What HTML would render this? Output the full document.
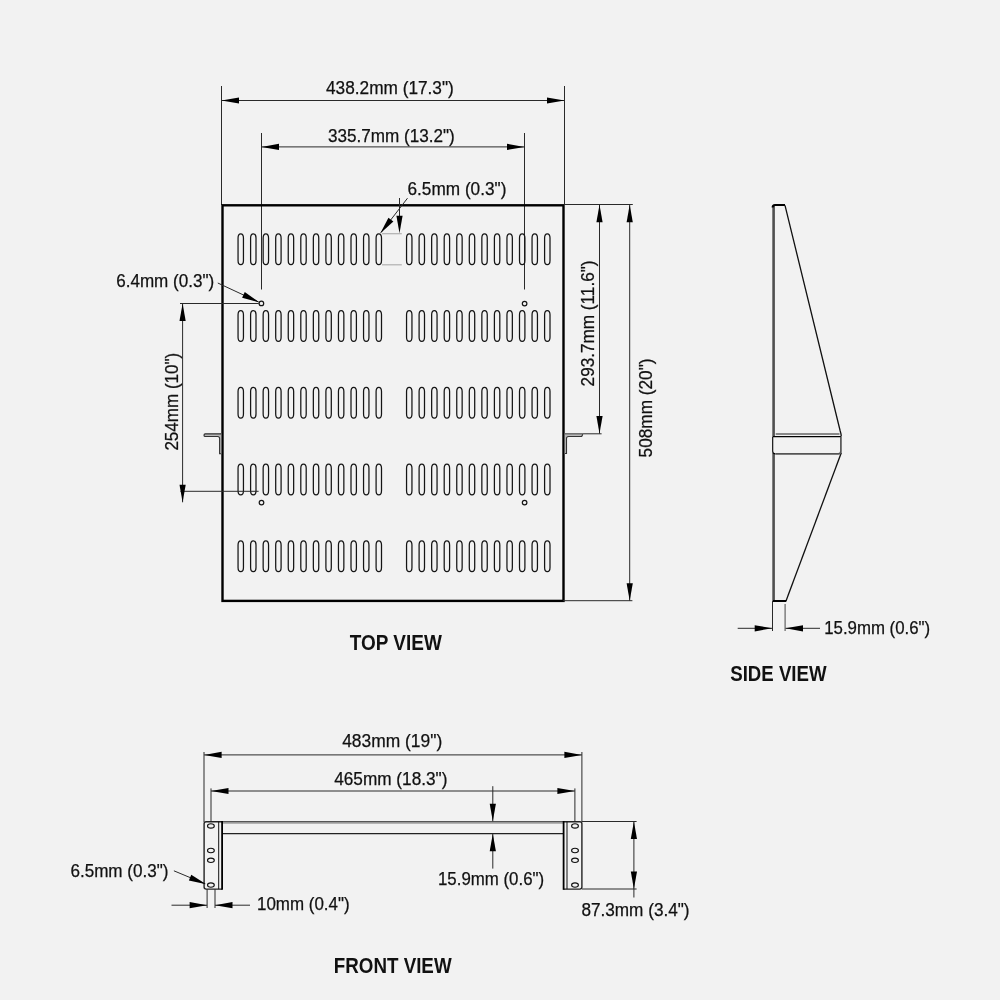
<!DOCTYPE html>
<html><head><meta charset="utf-8"><title>Shelf drawing</title>
<style>
html,body{margin:0;padding:0;background:#f2f2f2;}
body{width:1000px;height:1000px;overflow:hidden;}
svg{display:block;font-family:"Liberation Sans",sans-serif;will-change:transform;}
text{fill:#111;}
</style></head><body>
<svg width="1000" height="1000" viewBox="0 0 1000 1000">
<rect x="0" y="0" width="1000" height="1000" fill="#f2f2f2"/>
<line x1="221.50" y1="86.00" x2="221.50" y2="205.00" stroke="#2a2a2a" stroke-width="1.0" />
<line x1="564.50" y1="86.00" x2="564.50" y2="205.00" stroke="#2a2a2a" stroke-width="1.0" />
<line x1="221.50" y1="100.50" x2="564.50" y2="100.50" stroke="#2a2a2a" stroke-width="1.0" />
<polygon points="221.50,100.50 239.00,97.40 239.00,103.60" fill="#000"/>
<polygon points="564.50,100.50 547.00,103.60 547.00,97.40" fill="#000"/>
<text x="326.00" y="94.00" font-size="17.5" font-weight="normal" textLength="127.80" lengthAdjust="spacingAndGlyphs" stroke="#111" stroke-width="0.25">438.2mm (17.3")</text>
<line x1="261.50" y1="133.00" x2="261.50" y2="289.50" stroke="#2a2a2a" stroke-width="1.0" />
<line x1="524.50" y1="133.00" x2="524.50" y2="289.50" stroke="#2a2a2a" stroke-width="1.0" />
<line x1="261.50" y1="146.90" x2="524.50" y2="146.90" stroke="#2a2a2a" stroke-width="1.0" />
<polygon points="261.50,146.90 279.00,143.80 279.00,150.00" fill="#000"/>
<polygon points="524.50,146.90 507.00,150.00 507.00,143.80" fill="#000"/>
<text x="327.90" y="142.00" font-size="17.5" font-weight="normal" textLength="126.80" lengthAdjust="spacingAndGlyphs" stroke="#111" stroke-width="0.25">335.7mm (13.2")</text>
<rect x="222.5" y="205.3" width="341" height="395.6" fill="none" stroke="#000" stroke-width="2.4"/>
<rect x="238.05" y="233.90" width="5.4" height="30.8" rx="2.7" ry="4.2" fill="none" stroke="#151515" stroke-width="1.25"/>
<rect x="250.60" y="233.90" width="5.4" height="30.8" rx="2.7" ry="4.2" fill="none" stroke="#151515" stroke-width="1.25"/>
<rect x="263.15" y="233.90" width="5.4" height="30.8" rx="2.7" ry="4.2" fill="none" stroke="#151515" stroke-width="1.25"/>
<rect x="275.70" y="233.90" width="5.4" height="30.8" rx="2.7" ry="4.2" fill="none" stroke="#151515" stroke-width="1.25"/>
<rect x="288.25" y="233.90" width="5.4" height="30.8" rx="2.7" ry="4.2" fill="none" stroke="#151515" stroke-width="1.25"/>
<rect x="300.80" y="233.90" width="5.4" height="30.8" rx="2.7" ry="4.2" fill="none" stroke="#151515" stroke-width="1.25"/>
<rect x="313.35" y="233.90" width="5.4" height="30.8" rx="2.7" ry="4.2" fill="none" stroke="#151515" stroke-width="1.25"/>
<rect x="325.90" y="233.90" width="5.4" height="30.8" rx="2.7" ry="4.2" fill="none" stroke="#151515" stroke-width="1.25"/>
<rect x="338.45" y="233.90" width="5.4" height="30.8" rx="2.7" ry="4.2" fill="none" stroke="#151515" stroke-width="1.25"/>
<rect x="351.00" y="233.90" width="5.4" height="30.8" rx="2.7" ry="4.2" fill="none" stroke="#151515" stroke-width="1.25"/>
<rect x="363.55" y="233.90" width="5.4" height="30.8" rx="2.7" ry="4.2" fill="none" stroke="#151515" stroke-width="1.25"/>
<rect x="376.10" y="233.90" width="5.4" height="30.8" rx="2.7" ry="4.2" fill="none" stroke="#151515" stroke-width="1.25"/>
<rect x="406.55" y="233.90" width="5.4" height="30.8" rx="2.7" ry="4.2" fill="none" stroke="#151515" stroke-width="1.25"/>
<rect x="419.10" y="233.90" width="5.4" height="30.8" rx="2.7" ry="4.2" fill="none" stroke="#151515" stroke-width="1.25"/>
<rect x="431.65" y="233.90" width="5.4" height="30.8" rx="2.7" ry="4.2" fill="none" stroke="#151515" stroke-width="1.25"/>
<rect x="444.20" y="233.90" width="5.4" height="30.8" rx="2.7" ry="4.2" fill="none" stroke="#151515" stroke-width="1.25"/>
<rect x="456.75" y="233.90" width="5.4" height="30.8" rx="2.7" ry="4.2" fill="none" stroke="#151515" stroke-width="1.25"/>
<rect x="469.30" y="233.90" width="5.4" height="30.8" rx="2.7" ry="4.2" fill="none" stroke="#151515" stroke-width="1.25"/>
<rect x="481.85" y="233.90" width="5.4" height="30.8" rx="2.7" ry="4.2" fill="none" stroke="#151515" stroke-width="1.25"/>
<rect x="494.40" y="233.90" width="5.4" height="30.8" rx="2.7" ry="4.2" fill="none" stroke="#151515" stroke-width="1.25"/>
<rect x="506.95" y="233.90" width="5.4" height="30.8" rx="2.7" ry="4.2" fill="none" stroke="#151515" stroke-width="1.25"/>
<rect x="519.50" y="233.90" width="5.4" height="30.8" rx="2.7" ry="4.2" fill="none" stroke="#151515" stroke-width="1.25"/>
<rect x="532.05" y="233.90" width="5.4" height="30.8" rx="2.7" ry="4.2" fill="none" stroke="#151515" stroke-width="1.25"/>
<rect x="544.60" y="233.90" width="5.4" height="30.8" rx="2.7" ry="4.2" fill="none" stroke="#151515" stroke-width="1.25"/>
<rect x="238.05" y="310.65" width="5.4" height="30.8" rx="2.7" ry="4.2" fill="none" stroke="#151515" stroke-width="1.25"/>
<rect x="250.60" y="310.65" width="5.4" height="30.8" rx="2.7" ry="4.2" fill="none" stroke="#151515" stroke-width="1.25"/>
<rect x="263.15" y="310.65" width="5.4" height="30.8" rx="2.7" ry="4.2" fill="none" stroke="#151515" stroke-width="1.25"/>
<rect x="275.70" y="310.65" width="5.4" height="30.8" rx="2.7" ry="4.2" fill="none" stroke="#151515" stroke-width="1.25"/>
<rect x="288.25" y="310.65" width="5.4" height="30.8" rx="2.7" ry="4.2" fill="none" stroke="#151515" stroke-width="1.25"/>
<rect x="300.80" y="310.65" width="5.4" height="30.8" rx="2.7" ry="4.2" fill="none" stroke="#151515" stroke-width="1.25"/>
<rect x="313.35" y="310.65" width="5.4" height="30.8" rx="2.7" ry="4.2" fill="none" stroke="#151515" stroke-width="1.25"/>
<rect x="325.90" y="310.65" width="5.4" height="30.8" rx="2.7" ry="4.2" fill="none" stroke="#151515" stroke-width="1.25"/>
<rect x="338.45" y="310.65" width="5.4" height="30.8" rx="2.7" ry="4.2" fill="none" stroke="#151515" stroke-width="1.25"/>
<rect x="351.00" y="310.65" width="5.4" height="30.8" rx="2.7" ry="4.2" fill="none" stroke="#151515" stroke-width="1.25"/>
<rect x="363.55" y="310.65" width="5.4" height="30.8" rx="2.7" ry="4.2" fill="none" stroke="#151515" stroke-width="1.25"/>
<rect x="376.10" y="310.65" width="5.4" height="30.8" rx="2.7" ry="4.2" fill="none" stroke="#151515" stroke-width="1.25"/>
<rect x="406.55" y="310.65" width="5.4" height="30.8" rx="2.7" ry="4.2" fill="none" stroke="#151515" stroke-width="1.25"/>
<rect x="419.10" y="310.65" width="5.4" height="30.8" rx="2.7" ry="4.2" fill="none" stroke="#151515" stroke-width="1.25"/>
<rect x="431.65" y="310.65" width="5.4" height="30.8" rx="2.7" ry="4.2" fill="none" stroke="#151515" stroke-width="1.25"/>
<rect x="444.20" y="310.65" width="5.4" height="30.8" rx="2.7" ry="4.2" fill="none" stroke="#151515" stroke-width="1.25"/>
<rect x="456.75" y="310.65" width="5.4" height="30.8" rx="2.7" ry="4.2" fill="none" stroke="#151515" stroke-width="1.25"/>
<rect x="469.30" y="310.65" width="5.4" height="30.8" rx="2.7" ry="4.2" fill="none" stroke="#151515" stroke-width="1.25"/>
<rect x="481.85" y="310.65" width="5.4" height="30.8" rx="2.7" ry="4.2" fill="none" stroke="#151515" stroke-width="1.25"/>
<rect x="494.40" y="310.65" width="5.4" height="30.8" rx="2.7" ry="4.2" fill="none" stroke="#151515" stroke-width="1.25"/>
<rect x="506.95" y="310.65" width="5.4" height="30.8" rx="2.7" ry="4.2" fill="none" stroke="#151515" stroke-width="1.25"/>
<rect x="519.50" y="310.65" width="5.4" height="30.8" rx="2.7" ry="4.2" fill="none" stroke="#151515" stroke-width="1.25"/>
<rect x="532.05" y="310.65" width="5.4" height="30.8" rx="2.7" ry="4.2" fill="none" stroke="#151515" stroke-width="1.25"/>
<rect x="544.60" y="310.65" width="5.4" height="30.8" rx="2.7" ry="4.2" fill="none" stroke="#151515" stroke-width="1.25"/>
<rect x="238.05" y="387.40" width="5.4" height="30.8" rx="2.7" ry="4.2" fill="none" stroke="#151515" stroke-width="1.25"/>
<rect x="250.60" y="387.40" width="5.4" height="30.8" rx="2.7" ry="4.2" fill="none" stroke="#151515" stroke-width="1.25"/>
<rect x="263.15" y="387.40" width="5.4" height="30.8" rx="2.7" ry="4.2" fill="none" stroke="#151515" stroke-width="1.25"/>
<rect x="275.70" y="387.40" width="5.4" height="30.8" rx="2.7" ry="4.2" fill="none" stroke="#151515" stroke-width="1.25"/>
<rect x="288.25" y="387.40" width="5.4" height="30.8" rx="2.7" ry="4.2" fill="none" stroke="#151515" stroke-width="1.25"/>
<rect x="300.80" y="387.40" width="5.4" height="30.8" rx="2.7" ry="4.2" fill="none" stroke="#151515" stroke-width="1.25"/>
<rect x="313.35" y="387.40" width="5.4" height="30.8" rx="2.7" ry="4.2" fill="none" stroke="#151515" stroke-width="1.25"/>
<rect x="325.90" y="387.40" width="5.4" height="30.8" rx="2.7" ry="4.2" fill="none" stroke="#151515" stroke-width="1.25"/>
<rect x="338.45" y="387.40" width="5.4" height="30.8" rx="2.7" ry="4.2" fill="none" stroke="#151515" stroke-width="1.25"/>
<rect x="351.00" y="387.40" width="5.4" height="30.8" rx="2.7" ry="4.2" fill="none" stroke="#151515" stroke-width="1.25"/>
<rect x="363.55" y="387.40" width="5.4" height="30.8" rx="2.7" ry="4.2" fill="none" stroke="#151515" stroke-width="1.25"/>
<rect x="376.10" y="387.40" width="5.4" height="30.8" rx="2.7" ry="4.2" fill="none" stroke="#151515" stroke-width="1.25"/>
<rect x="406.55" y="387.40" width="5.4" height="30.8" rx="2.7" ry="4.2" fill="none" stroke="#151515" stroke-width="1.25"/>
<rect x="419.10" y="387.40" width="5.4" height="30.8" rx="2.7" ry="4.2" fill="none" stroke="#151515" stroke-width="1.25"/>
<rect x="431.65" y="387.40" width="5.4" height="30.8" rx="2.7" ry="4.2" fill="none" stroke="#151515" stroke-width="1.25"/>
<rect x="444.20" y="387.40" width="5.4" height="30.8" rx="2.7" ry="4.2" fill="none" stroke="#151515" stroke-width="1.25"/>
<rect x="456.75" y="387.40" width="5.4" height="30.8" rx="2.7" ry="4.2" fill="none" stroke="#151515" stroke-width="1.25"/>
<rect x="469.30" y="387.40" width="5.4" height="30.8" rx="2.7" ry="4.2" fill="none" stroke="#151515" stroke-width="1.25"/>
<rect x="481.85" y="387.40" width="5.4" height="30.8" rx="2.7" ry="4.2" fill="none" stroke="#151515" stroke-width="1.25"/>
<rect x="494.40" y="387.40" width="5.4" height="30.8" rx="2.7" ry="4.2" fill="none" stroke="#151515" stroke-width="1.25"/>
<rect x="506.95" y="387.40" width="5.4" height="30.8" rx="2.7" ry="4.2" fill="none" stroke="#151515" stroke-width="1.25"/>
<rect x="519.50" y="387.40" width="5.4" height="30.8" rx="2.7" ry="4.2" fill="none" stroke="#151515" stroke-width="1.25"/>
<rect x="532.05" y="387.40" width="5.4" height="30.8" rx="2.7" ry="4.2" fill="none" stroke="#151515" stroke-width="1.25"/>
<rect x="544.60" y="387.40" width="5.4" height="30.8" rx="2.7" ry="4.2" fill="none" stroke="#151515" stroke-width="1.25"/>
<rect x="238.05" y="464.15" width="5.4" height="30.8" rx="2.7" ry="4.2" fill="none" stroke="#151515" stroke-width="1.25"/>
<rect x="250.60" y="464.15" width="5.4" height="30.8" rx="2.7" ry="4.2" fill="none" stroke="#151515" stroke-width="1.25"/>
<rect x="263.15" y="464.15" width="5.4" height="30.8" rx="2.7" ry="4.2" fill="none" stroke="#151515" stroke-width="1.25"/>
<rect x="275.70" y="464.15" width="5.4" height="30.8" rx="2.7" ry="4.2" fill="none" stroke="#151515" stroke-width="1.25"/>
<rect x="288.25" y="464.15" width="5.4" height="30.8" rx="2.7" ry="4.2" fill="none" stroke="#151515" stroke-width="1.25"/>
<rect x="300.80" y="464.15" width="5.4" height="30.8" rx="2.7" ry="4.2" fill="none" stroke="#151515" stroke-width="1.25"/>
<rect x="313.35" y="464.15" width="5.4" height="30.8" rx="2.7" ry="4.2" fill="none" stroke="#151515" stroke-width="1.25"/>
<rect x="325.90" y="464.15" width="5.4" height="30.8" rx="2.7" ry="4.2" fill="none" stroke="#151515" stroke-width="1.25"/>
<rect x="338.45" y="464.15" width="5.4" height="30.8" rx="2.7" ry="4.2" fill="none" stroke="#151515" stroke-width="1.25"/>
<rect x="351.00" y="464.15" width="5.4" height="30.8" rx="2.7" ry="4.2" fill="none" stroke="#151515" stroke-width="1.25"/>
<rect x="363.55" y="464.15" width="5.4" height="30.8" rx="2.7" ry="4.2" fill="none" stroke="#151515" stroke-width="1.25"/>
<rect x="376.10" y="464.15" width="5.4" height="30.8" rx="2.7" ry="4.2" fill="none" stroke="#151515" stroke-width="1.25"/>
<rect x="406.55" y="464.15" width="5.4" height="30.8" rx="2.7" ry="4.2" fill="none" stroke="#151515" stroke-width="1.25"/>
<rect x="419.10" y="464.15" width="5.4" height="30.8" rx="2.7" ry="4.2" fill="none" stroke="#151515" stroke-width="1.25"/>
<rect x="431.65" y="464.15" width="5.4" height="30.8" rx="2.7" ry="4.2" fill="none" stroke="#151515" stroke-width="1.25"/>
<rect x="444.20" y="464.15" width="5.4" height="30.8" rx="2.7" ry="4.2" fill="none" stroke="#151515" stroke-width="1.25"/>
<rect x="456.75" y="464.15" width="5.4" height="30.8" rx="2.7" ry="4.2" fill="none" stroke="#151515" stroke-width="1.25"/>
<rect x="469.30" y="464.15" width="5.4" height="30.8" rx="2.7" ry="4.2" fill="none" stroke="#151515" stroke-width="1.25"/>
<rect x="481.85" y="464.15" width="5.4" height="30.8" rx="2.7" ry="4.2" fill="none" stroke="#151515" stroke-width="1.25"/>
<rect x="494.40" y="464.15" width="5.4" height="30.8" rx="2.7" ry="4.2" fill="none" stroke="#151515" stroke-width="1.25"/>
<rect x="506.95" y="464.15" width="5.4" height="30.8" rx="2.7" ry="4.2" fill="none" stroke="#151515" stroke-width="1.25"/>
<rect x="519.50" y="464.15" width="5.4" height="30.8" rx="2.7" ry="4.2" fill="none" stroke="#151515" stroke-width="1.25"/>
<rect x="532.05" y="464.15" width="5.4" height="30.8" rx="2.7" ry="4.2" fill="none" stroke="#151515" stroke-width="1.25"/>
<rect x="544.60" y="464.15" width="5.4" height="30.8" rx="2.7" ry="4.2" fill="none" stroke="#151515" stroke-width="1.25"/>
<rect x="238.05" y="540.90" width="5.4" height="30.8" rx="2.7" ry="4.2" fill="none" stroke="#151515" stroke-width="1.25"/>
<rect x="250.60" y="540.90" width="5.4" height="30.8" rx="2.7" ry="4.2" fill="none" stroke="#151515" stroke-width="1.25"/>
<rect x="263.15" y="540.90" width="5.4" height="30.8" rx="2.7" ry="4.2" fill="none" stroke="#151515" stroke-width="1.25"/>
<rect x="275.70" y="540.90" width="5.4" height="30.8" rx="2.7" ry="4.2" fill="none" stroke="#151515" stroke-width="1.25"/>
<rect x="288.25" y="540.90" width="5.4" height="30.8" rx="2.7" ry="4.2" fill="none" stroke="#151515" stroke-width="1.25"/>
<rect x="300.80" y="540.90" width="5.4" height="30.8" rx="2.7" ry="4.2" fill="none" stroke="#151515" stroke-width="1.25"/>
<rect x="313.35" y="540.90" width="5.4" height="30.8" rx="2.7" ry="4.2" fill="none" stroke="#151515" stroke-width="1.25"/>
<rect x="325.90" y="540.90" width="5.4" height="30.8" rx="2.7" ry="4.2" fill="none" stroke="#151515" stroke-width="1.25"/>
<rect x="338.45" y="540.90" width="5.4" height="30.8" rx="2.7" ry="4.2" fill="none" stroke="#151515" stroke-width="1.25"/>
<rect x="351.00" y="540.90" width="5.4" height="30.8" rx="2.7" ry="4.2" fill="none" stroke="#151515" stroke-width="1.25"/>
<rect x="363.55" y="540.90" width="5.4" height="30.8" rx="2.7" ry="4.2" fill="none" stroke="#151515" stroke-width="1.25"/>
<rect x="376.10" y="540.90" width="5.4" height="30.8" rx="2.7" ry="4.2" fill="none" stroke="#151515" stroke-width="1.25"/>
<rect x="406.55" y="540.90" width="5.4" height="30.8" rx="2.7" ry="4.2" fill="none" stroke="#151515" stroke-width="1.25"/>
<rect x="419.10" y="540.90" width="5.4" height="30.8" rx="2.7" ry="4.2" fill="none" stroke="#151515" stroke-width="1.25"/>
<rect x="431.65" y="540.90" width="5.4" height="30.8" rx="2.7" ry="4.2" fill="none" stroke="#151515" stroke-width="1.25"/>
<rect x="444.20" y="540.90" width="5.4" height="30.8" rx="2.7" ry="4.2" fill="none" stroke="#151515" stroke-width="1.25"/>
<rect x="456.75" y="540.90" width="5.4" height="30.8" rx="2.7" ry="4.2" fill="none" stroke="#151515" stroke-width="1.25"/>
<rect x="469.30" y="540.90" width="5.4" height="30.8" rx="2.7" ry="4.2" fill="none" stroke="#151515" stroke-width="1.25"/>
<rect x="481.85" y="540.90" width="5.4" height="30.8" rx="2.7" ry="4.2" fill="none" stroke="#151515" stroke-width="1.25"/>
<rect x="494.40" y="540.90" width="5.4" height="30.8" rx="2.7" ry="4.2" fill="none" stroke="#151515" stroke-width="1.25"/>
<rect x="506.95" y="540.90" width="5.4" height="30.8" rx="2.7" ry="4.2" fill="none" stroke="#151515" stroke-width="1.25"/>
<rect x="519.50" y="540.90" width="5.4" height="30.8" rx="2.7" ry="4.2" fill="none" stroke="#151515" stroke-width="1.25"/>
<rect x="532.05" y="540.90" width="5.4" height="30.8" rx="2.7" ry="4.2" fill="none" stroke="#151515" stroke-width="1.25"/>
<rect x="544.60" y="540.90" width="5.4" height="30.8" rx="2.7" ry="4.2" fill="none" stroke="#151515" stroke-width="1.25"/>
<circle cx="261.4" cy="303.4" r="2.3" fill="none" stroke="#151515" stroke-width="1.2"/>
<circle cx="524.6" cy="303.6" r="2.3" fill="none" stroke="#151515" stroke-width="1.2"/>
<circle cx="261.5" cy="502.6" r="2.3" fill="none" stroke="#151515" stroke-width="1.2"/>
<circle cx="524.6" cy="502.6" r="2.3" fill="none" stroke="#151515" stroke-width="1.2"/>
<line x1="382.00" y1="233.70" x2="401.80" y2="233.70" stroke="#b0b0b0" stroke-width="1.2" />
<line x1="382.00" y1="264.80" x2="401.80" y2="264.80" stroke="#b0b0b0" stroke-width="1.2" />
<text x="407.50" y="195.00" font-size="17.5" font-weight="normal" textLength="98.90" lengthAdjust="spacingAndGlyphs" stroke="#111" stroke-width="0.25">6.5mm (0.3")</text>
<line x1="407.50" y1="198.20" x2="381.00" y2="232.50" stroke="#2a2a2a" stroke-width="1.0" />
<polygon points="380.20,233.50 388.45,217.76 393.36,221.55" fill="#000"/>
<line x1="399.50" y1="198.00" x2="399.50" y2="216.00" stroke="#2a2a2a" stroke-width="1.0" />
<polygon points="399.50,233.20 396.40,215.70 402.60,215.70" fill="#000"/>
<text x="116.20" y="287.00" font-size="17.5" font-weight="normal" textLength="98.00" lengthAdjust="spacingAndGlyphs" stroke="#111" stroke-width="0.25">6.4mm (0.3")</text>
<line x1="217.80" y1="283.00" x2="258.50" y2="302.00" stroke="#2a2a2a" stroke-width="1.0" />
<polygon points="259.30,302.30 242.12,297.73 244.74,292.11" fill="#000"/>
<line x1="180.00" y1="303.50" x2="258.80" y2="303.50" stroke="#2a2a2a" stroke-width="1.0" />
<line x1="180.40" y1="491.30" x2="258.60" y2="491.30" stroke="#2a2a2a" stroke-width="1.0" />
<line x1="182.60" y1="303.60" x2="182.60" y2="502.30" stroke="#2a2a2a" stroke-width="1.0" />
<polygon points="182.60,303.60 185.70,321.10 179.50,321.10" fill="#000"/>
<polygon points="182.60,502.30 179.50,484.80 185.70,484.80" fill="#000"/>
<text transform="translate(178.20,450.60) rotate(-90)" x="0" y="0" font-size="17.5" textLength="97.90" lengthAdjust="spacingAndGlyphs" stroke="#111" stroke-width="0.25">254mm (10")</text>
<line x1="564.00" y1="204.50" x2="632.80" y2="204.50" stroke="#2a2a2a" stroke-width="1.0" />
<line x1="565.00" y1="433.80" x2="601.60" y2="433.80" stroke="#2a2a2a" stroke-width="1.0" />
<line x1="563.00" y1="600.70" x2="632.40" y2="600.70" stroke="#2a2a2a" stroke-width="1.0" />
<line x1="599.50" y1="204.80" x2="599.50" y2="433.60" stroke="#2a2a2a" stroke-width="1.0" />
<polygon points="599.50,204.80 602.60,222.30 596.40,222.30" fill="#000"/>
<polygon points="599.50,433.60 596.40,416.10 602.60,416.10" fill="#000"/>
<line x1="629.70" y1="204.80" x2="629.70" y2="600.70" stroke="#2a2a2a" stroke-width="1.0" />
<polygon points="629.70,204.80 632.80,222.30 626.60,222.30" fill="#000"/>
<polygon points="629.70,600.70 626.60,583.20 632.80,583.20" fill="#000"/>
<text transform="translate(594.30,386.40) rotate(-90)" x="0" y="0" font-size="17.5" textLength="125.90" lengthAdjust="spacingAndGlyphs" stroke="#111" stroke-width="0.25">293.7mm (11.6")</text>
<text transform="translate(651.80,457.40) rotate(-90)" x="0" y="0" font-size="17.5" textLength="98.90" lengthAdjust="spacingAndGlyphs" stroke="#111" stroke-width="0.25">508mm (20")</text>
<path d="M564.8,433.4 H583.2 L581.9,437 H568.6 Q567,437 567,438.6 V454 H564.8 Z" fill="#b8b8b8"/>
<path d="M564.8,433.9 H583" stroke="#666" stroke-width="1.2" fill="none"/>
<path d="M582.8,434.2 L581.7,436.5 H568.5 Q566.5,436.5 566.5,438.5 V453.5 H564.8" stroke="#333" stroke-width="1.1" fill="none"/>
<path d="M221.2,433.4 H205.2 Q203.6,433.4 203.6,435.2 Q203.6,437 205.2,437 H217.6 Q219.2,437 219.2,438.6 V454 H221.2 Z" fill="#b8b8b8"/>
<path d="M221.2,433.9 H205.3 Q204,433.9 204,435.2 Q204,436.5 205.3,436.5 H217.6 Q219.6,436.5 219.6,438.5 V453.8 H221.2" stroke="#333" stroke-width="1.1" fill="none"/>
<text x="349.80" y="650.00" font-size="22.5" font-weight="bold" textLength="92.00" lengthAdjust="spacingAndGlyphs">TOP VIEW</text>
<line x1="773.60" y1="206.00" x2="773.60" y2="436.00" stroke="#505050" stroke-width="2.6" />
<line x1="773.60" y1="453.00" x2="773.60" y2="600.00" stroke="#505050" stroke-width="2.6" />
<path d="M772.6,207.5 Q772.6,205 775,205 H785" fill="none" stroke="#000" stroke-width="2"/>
<path d="M785,205.3 L840.2,431 Q841.3,434.5 841.3,436.5" fill="none" stroke="#111" stroke-width="1.3"/>
<line x1="841.30" y1="452.80" x2="786.00" y2="601.00" stroke="#111" stroke-width="1.3" />
<line x1="772.50" y1="601.00" x2="786.30" y2="601.00" stroke="#000" stroke-width="2" />
<line x1="775.70" y1="434.00" x2="839.50" y2="434.00" stroke="#666" stroke-width="1.6" />
<line x1="772.60" y1="436.70" x2="841.00" y2="436.70" stroke="#000" stroke-width="1.3" />
<path d="M772.7,436.7 V451.3 Q772.7,453.9 775.5,453.9" fill="none" stroke="#000" stroke-width="1.1"/>
<path d="M775.5,453.9 H838.5 Q840.9,453.9 840.9,451.3 V436.7" fill="none" stroke="#555" stroke-width="1.7"/>
<line x1="772.50" y1="601.00" x2="772.50" y2="631.00" stroke="#2a2a2a" stroke-width="1.0" />
<line x1="785.10" y1="604.00" x2="785.10" y2="631.00" stroke="#555" stroke-width="1.1" />
<line x1="737.70" y1="628.30" x2="772.00" y2="628.30" stroke="#2a2a2a" stroke-width="1.0" />
<polygon points="772.20,628.30 754.70,631.40 754.70,625.20" fill="#000"/>
<line x1="785.50" y1="628.30" x2="820.00" y2="628.30" stroke="#2a2a2a" stroke-width="1.0" />
<polygon points="785.50,628.30 803.00,625.20 803.00,631.40" fill="#000"/>
<text x="824.20" y="634.00" font-size="17.5" font-weight="normal" textLength="106.00" lengthAdjust="spacingAndGlyphs" stroke="#111" stroke-width="0.25">15.9mm (0.6")</text>
<text x="730.20" y="681.00" font-size="22.5" font-weight="bold" textLength="96.40" lengthAdjust="spacingAndGlyphs">SIDE VIEW</text>
<line x1="204.00" y1="752.00" x2="204.00" y2="822.00" stroke="#2a2a2a" stroke-width="1.0" />
<line x1="581.90" y1="752.00" x2="581.90" y2="822.00" stroke="#2a2a2a" stroke-width="1.0" />
<line x1="204.10" y1="754.90" x2="581.90" y2="754.90" stroke="#2a2a2a" stroke-width="1.0" />
<polygon points="204.10,754.90 221.60,751.80 221.60,758.00" fill="#000"/>
<polygon points="581.90,754.90 564.40,758.00 564.40,751.80" fill="#000"/>
<text x="342.20" y="747.00" font-size="17.5" font-weight="normal" textLength="100.00" lengthAdjust="spacingAndGlyphs" stroke="#111" stroke-width="0.25">483mm (19")</text>
<line x1="211.00" y1="788.40" x2="211.00" y2="822.00" stroke="#2a2a2a" stroke-width="1.0" />
<line x1="574.90" y1="788.40" x2="574.90" y2="822.00" stroke="#2a2a2a" stroke-width="1.0" />
<line x1="211.00" y1="791.00" x2="574.90" y2="791.00" stroke="#2a2a2a" stroke-width="1.0" />
<polygon points="211.00,791.00 228.50,787.90 228.50,794.10" fill="#000"/>
<polygon points="574.90,791.00 557.40,794.10 557.40,787.90" fill="#000"/>
<text x="334.20" y="785.00" font-size="17.5" font-weight="normal" textLength="113.20" lengthAdjust="spacingAndGlyphs" stroke="#111" stroke-width="0.25">465mm (18.3")</text>
<line x1="222.00" y1="821.80" x2="563.50" y2="821.80" stroke="#222" stroke-width="1.1" />
<line x1="222.00" y1="823.00" x2="563.50" y2="823.00" stroke="#777" stroke-width="1.2" />
<line x1="222.00" y1="833.70" x2="563.50" y2="833.70" stroke="#222" stroke-width="1.3" />
<path d="M222,821.7 H206.2 Q204.1,821.7 204.1,823.8 V887 Q204.1,889.1 206.2,889.1 H222" fill="none" stroke="#222" stroke-width="1.4"/>
<line x1="222.10" y1="821.00" x2="222.10" y2="889.80" stroke="#000" stroke-width="1.8" />
<line x1="218.70" y1="821.70" x2="218.70" y2="889.10" stroke="#111" stroke-width="1.0" />
<path d="M563.5,821.7 H579.8 Q581.9,821.7 581.9,823.8 V887 Q581.9,889.1 579.8,889.1 H563.5" fill="none" stroke="#222" stroke-width="1.4"/>
<line x1="563.60" y1="821.00" x2="563.60" y2="889.80" stroke="#000" stroke-width="1.8" />
<line x1="567.00" y1="821.70" x2="567.00" y2="889.10" stroke="#111" stroke-width="1.0" />
<ellipse cx="210.9" cy="825.9" rx="3.4" ry="2.2" fill="none" stroke="#111" stroke-width="1.1"/>
<ellipse cx="210.9" cy="850.5" rx="3.4" ry="2.2" fill="none" stroke="#111" stroke-width="1.1"/>
<ellipse cx="210.9" cy="860.3" rx="3.4" ry="2.2" fill="none" stroke="#111" stroke-width="1.1"/>
<ellipse cx="210.9" cy="885.1" rx="3.4" ry="2.2" fill="none" stroke="#111" stroke-width="1.1"/>
<ellipse cx="575" cy="825.9" rx="3.4" ry="2.2" fill="none" stroke="#111" stroke-width="1.1"/>
<ellipse cx="575" cy="850.5" rx="3.4" ry="2.2" fill="none" stroke="#111" stroke-width="1.1"/>
<ellipse cx="575" cy="860.3" rx="3.4" ry="2.2" fill="none" stroke="#111" stroke-width="1.1"/>
<ellipse cx="575" cy="885.1" rx="3.4" ry="2.2" fill="none" stroke="#111" stroke-width="1.1"/>
<line x1="582.00" y1="821.50" x2="636.60" y2="821.50" stroke="#2a2a2a" stroke-width="1.0" />
<line x1="582.00" y1="889.00" x2="636.60" y2="889.00" stroke="#2a2a2a" stroke-width="1.0" />
<line x1="633.90" y1="821.50" x2="633.90" y2="897.50" stroke="#2a2a2a" stroke-width="1.0" />
<polygon points="633.90,821.50 637.00,839.00 630.80,839.00" fill="#000"/>
<polygon points="633.90,889.00 630.80,871.50 637.00,871.50" fill="#000"/>
<text x="581.40" y="916.00" font-size="17.5" font-weight="normal" textLength="108.20" lengthAdjust="spacingAndGlyphs" stroke="#111" stroke-width="0.25">87.3mm (3.4")</text>
<line x1="492.80" y1="786.20" x2="492.80" y2="821.30" stroke="#2a2a2a" stroke-width="1.0" />
<polygon points="492.80,821.30 489.70,803.80 495.90,803.80" fill="#000"/>
<line x1="492.80" y1="833.80" x2="492.80" y2="868.60" stroke="#2a2a2a" stroke-width="1.0" />
<polygon points="492.80,833.80 495.90,851.30 489.70,851.30" fill="#000"/>
<text x="438.00" y="885.00" font-size="17.5" font-weight="normal" textLength="106.10" lengthAdjust="spacingAndGlyphs" stroke="#111" stroke-width="0.25">15.9mm (0.6")</text>
<text x="70.40" y="877.00" font-size="17.5" font-weight="normal" textLength="98.10" lengthAdjust="spacingAndGlyphs" stroke="#111" stroke-width="0.25">6.5mm (0.3")</text>
<line x1="173.90" y1="870.80" x2="205.00" y2="883.80" stroke="#2a2a2a" stroke-width="1.0" />
<polygon points="206.20,884.30 188.86,880.41 191.25,874.69" fill="#000"/>
<line x1="207.10" y1="889.00" x2="207.10" y2="908.00" stroke="#2a2a2a" stroke-width="1.0" />
<line x1="215.00" y1="889.00" x2="215.00" y2="908.00" stroke="#2a2a2a" stroke-width="1.0" />
<line x1="171.50" y1="905.20" x2="207.10" y2="905.20" stroke="#2a2a2a" stroke-width="1.0" />
<polygon points="207.10,905.20 189.60,908.30 189.60,902.10" fill="#000"/>
<line x1="215.00" y1="905.20" x2="250.00" y2="905.20" stroke="#2a2a2a" stroke-width="1.0" />
<polygon points="215.00,905.20 232.50,902.10 232.50,908.30" fill="#000"/>
<text x="257.00" y="910.00" font-size="17.5" font-weight="normal" textLength="92.60" lengthAdjust="spacingAndGlyphs" stroke="#111" stroke-width="0.25">10mm (0.4")</text>
<text x="333.80" y="973.00" font-size="22.5" font-weight="bold" textLength="117.80" lengthAdjust="spacingAndGlyphs">FRONT VIEW</text>
</svg>
</body></html>
